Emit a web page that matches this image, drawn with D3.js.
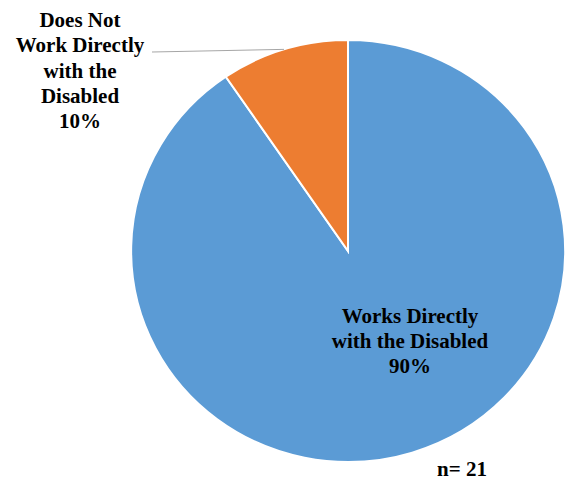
<!DOCTYPE html>
<html>
<head>
<meta charset="utf-8">
<script src="https://cdn.jsdelivr.net/npm/d3@7/dist/d3.min.js"></script>
</head>
<body style="margin:0">
<svg id="chart" width="568" height="480"></svg>
<script>
// Survey responses (n = 21)
const categories = ["Works Directly with the Disabled", "Does Not Work Directly with the Disabled"];
const counts = [19, 2];
const colors = ["#5B9BD5", "#ED7D31"];
const totalLabel = "n= 21";

const FONT = "Times New Roman";

const cx = 348, cy = 251;
const rx = 217, ry = 211;

const svg = d3.select("#chart");
const total = d3.sum(counts);
const pct = counts.map(c => Math.round(c / total * 100));

// slices run clockwise from 12 o'clock, so the small one closes at the top
const pie = d3.pie().sort(null).value(d => d);
const arcs = pie(counts);
const arc = d3.arc().innerRadius(0).outerRadius(1);

const slices = svg.append("g")
  .attr("transform", `translate(${cx},${cy}) scale(${rx},${ry})`);
slices.selectAll("path")
  .data(arcs)
  .join("path")
  .attr("d", arc)
  .attr("fill", (d, i) => colors[i])
  .attr("stroke", "#fff")
  .attr("stroke-width", 2)
  .attr("vector-effect", "non-scaling-stroke");

// one <text> per line, centred on x by its measured width
function label(x, y0, step, lines) {
  lines.forEach((s, i) => {
    const t = svg.append("text")
      .attr("x", x)
      .attr("y", y0 + i * step)
      .attr("font-family", FONT)
      .attr("font-weight", "bold")
      .attr("font-size", 21)
      .attr("fill", "#000")
      .text(s);
    const w = t.node().getComputedTextLength();
    if (w > 0) t.attr("x", x - w / 2);
    else t.attr("text-anchor", "middle");
  });
}

// large slice: label inside
label(410, 323, 25, ["Works Directly", "with the Disabled", pct[0] + "%"]);

// small slice: label outside with a leader line to the slice's mid-angle
const small = arcs[1];
const midA = (small.startAngle + small.endAngle) / 2;
svg.append("line")
  .attr("x1", 152).attr("y1", 52)
  .attr("x2", cx + rx * Math.sin(midA))
  .attr("y2", cy - ry * Math.cos(midA))
  .attr("stroke", "#A6A6A6")
  .attr("stroke-width", 1);

label(80, 27, 25.3, ["Does Not", "Work Directly", "with the", "Disabled", pct[1] + "%"]);

label(462, 476, 0, [totalLabel]);
</script>
</body>
</html>
